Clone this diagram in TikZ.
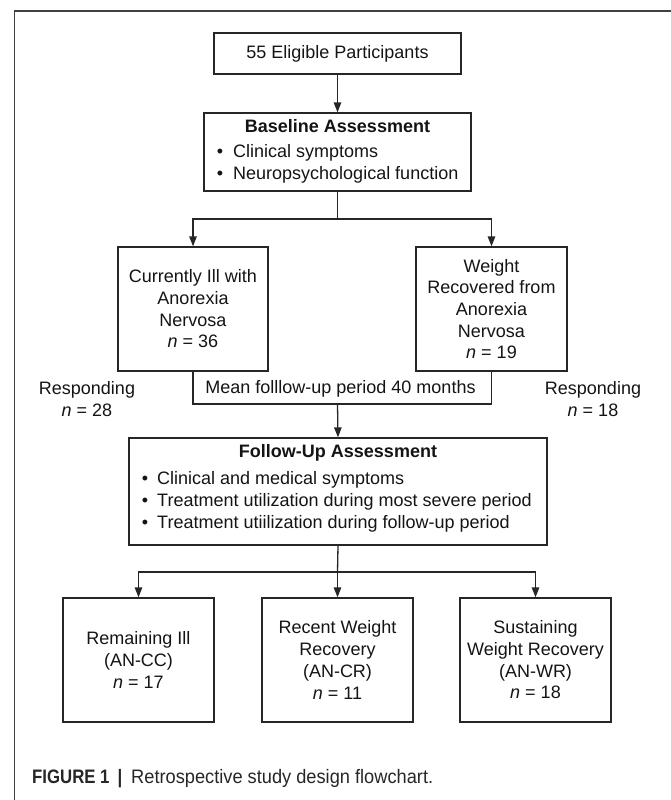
\documentclass[tikz,border=0pt]{standalone}
\usepackage{fontspec}
\setmainfont{Liberation Sans}
\newfontfamily\capreg[FakeStretch=0.935]{Liberation Sans}
\newfontfamily\capbold[FakeStretch=0.86]{Liberation Sans}
\newcommand\mainfs{\fontsize{18}{21.7}\selectfont}
\usetikzlibrary{arrows.meta}
\begin{document}
\begin{tikzpicture}[x=1pt,y=-1pt,
  box/.style={draw=black!85, line width=1.3pt, inner sep=0pt, font=\mainfs, text=black!92, align=center},
  txt/.style={inner sep=0pt, font=\mainfs, text=black!92},
  conn/.style={draw=black!85, line width=1.3pt},
  arr/.style={conn, -{Triangle[length=10pt,width=7.5pt]}},
  captxt/.style={inner sep=0pt, text=black!85, anchor=base west}]
\useasboundingbox (0,0) rectangle (671,800);
% outer frame
\draw[line width=1.4pt, black!75] (671,11) -- (14.5,11) -- (14.5,800);

% top boxes
\node[box, minimum width=247pt, minimum height=41pt] (elig) at (337.5,53.5) {55 Eligible Participants};
\node[box, minimum width=267pt, minimum height=78pt] (base) at (337.5,152) {};
\node[txt, font=\mainfs\bfseries, anchor=base] (baset) at (337.5,132.5) {Baseline Assessment};
\node[txt, anchor=base] (bb1) at (220,157.5) {•};
\node[txt, anchor=base west] (bt1) at (233,157.5) {Clinical symptoms};
\node[txt, anchor=base] (bb2) at (220,179.5) {•};
\node[txt, anchor=base west] (bt2) at (233,179.5) {Neuropsychological function};
\draw[arr] (elig) -- (base);

% groups
\node[box, minimum width=150pt, minimum height=124pt] (ill) at (193,309) {Currently Ill with\\Anorexia\\Nervosa\\\textit{n} = 36};
\node[box, minimum width=151pt, minimum height=124pt] (rec) at (491.5,309) {Weight\\Recovered from\\Anorexia\\Nervosa\\\textit{n} = 19};
\coordinate (j1) at (337.5,219);
\draw[conn] (base.south) -- (j1);
\draw[arr] (j1) -| (ill.north);
\draw[arr] (j1) -| (rec.north);

% follow-up bracket
\coordinate (mb) at (337.5,404);
\draw[conn] (ill.south) |- (mb) -| (rec.south);
\node[txt] (mean) at (340.5,389) {Mean folllow-up period 40 months};
\node[txt, align=center] (respl) at (87,399) {Responding\\\textit{n} = 28};
\node[txt, align=center] (respr) at (593,399) {Responding\\\textit{n} = 18};

% follow-up assessment
\node[box, minimum width=418pt, minimum height=107pt] (fu) at (338,491.5) {};
\draw[arr] (mb) -- (fu.north);
\node[txt, font=\mainfs\bfseries, anchor=base] (fut) at (338,457.5) {Follow-Up Assessment};
\node[txt, anchor=base] (fb1) at (145,484.5) {•};
\node[txt, anchor=base west] (ft1) at (157,484.5) {Clinical and medical symptoms};
\node[txt, anchor=base] (fb2) at (145,506.5) {•};
\node[txt, anchor=base west] (ft2) at (157,506.5) {Treatment utilization during most severe period};
\node[txt, anchor=base] (fb3) at (145,528.5) {•};
\node[txt, anchor=base west] (ft3) at (157,528.5) {Treatment utiilization during follow-up period};

% outcome boxes
\node[box, minimum width=151pt, minimum height=124pt] (cc) at (138.5,660) {Remaining Ill\\(AN-CC)\\\textit{n} = 17};
\node[box, minimum width=151pt, minimum height=124pt] (cr) at (337.5,660) {Recent Weight\\Recovery\\(AN-CR)\\\textit{n} = 11};
\node[box, minimum width=151pt, minimum height=124pt] (wr) at (535.5,660) {Sustaining\\Weight Recovery\\(AN-WR)\\\textit{n} = 18};
\coordinate (j2) at (337.5,572);
\draw[conn] (fu.south) -- (j2);
\draw[arr] (j2) -| (cc.north);
\draw[arr] (j2) -- (cr.north);
\draw[arr] (j2) -| (wr.north);

% caption
\node[captxt, font=\capbold\bfseries\fontsize{19.5}{21}\selectfont] (cap1) at (32,783) {FIGURE 1};
\node[captxt, font=\capbold\bfseries\fontsize{19.5}{21}\selectfont, anchor=base] (cap2) at (120,783) {|};
\node[captxt, font=\capreg\fontsize{19.5}{21}\selectfont] (cap3) at (131,783) {Retrospective study design flowchart.};
\end{tikzpicture}
\end{document}
